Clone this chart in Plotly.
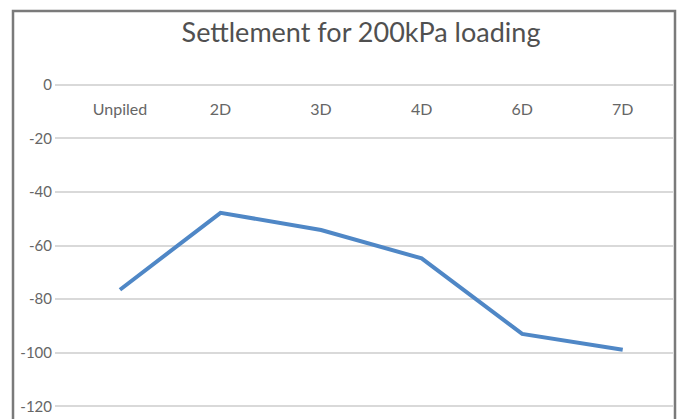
import plotly.graph_objects as go

# Pile spacing cases and measured settlement (mm) under 200 kPa
categories = ["Unpiled", "2D", "3D", "4D", "6D", "7D"]
settlement = [-76.5, -47.8, -54.2, -64.8, -93.0, -98.9]
y_ticks = [0, -20, -40, -60, -80, -100, -120]
y_tick_text = ["0", "-20", "-40", "-60", "-80", "-100", "-120"]

W, H = 679, 419
L, R, T, B = 55, 6, 74, 10
y_range = [-121, 4]

fig = go.Figure()
fig.add_trace(go.Scatter(
    x=categories, y=settlement, mode="lines",
    line=dict(color="#4f87c6", width=4),
    hoverinfo="x+y",
))

plot_h = H - T - B
zero_pos = (0 - y_range[0]) / (y_range[1] - y_range[0])

fig.update_layout(
    width=W, height=H,
    margin=dict(l=L, r=R, t=T, b=B, pad=0),
    paper_bgcolor="white", plot_bgcolor="white",
    showlegend=False,
    title=dict(
        text="Settlement for 200kPa loading",
        font=dict(family="Lato", size=27, color="#505050"),
        x=361 / W, xanchor="center", xref="container",
        y=1 - 33 / H, yanchor="middle", yref="container",
    ),
    xaxis=dict(
        type="category",
        range=[-0.646, 5.5],
        anchor="free", position=zero_pos, side="bottom",
        showgrid=False, showline=False, zeroline=False,
        ticks="", ticklabelstandoff=13,
        tickfont=dict(family="Lato", size=16, color="#666666"),
        automargin=False,
    ),
    yaxis=dict(
        range=y_range,
        tickvals=y_ticks, ticktext=y_tick_text,
        showgrid=True, gridcolor="#d9d9d9", gridwidth=1.5,
        zeroline=False, showline=False,
        ticks="", ticklabelstandoff=2,
        tickfont=dict(family="Lato", size=15, color="#666666"),
        automargin=False,
    ),
    shapes=[dict(
        type="rect", xref="paper", yref="paper",
        x0=(13 - L) / (W - L - R), x1=(675 - L) / (W - L - R),
        y0=-0.1, y1=(H - B - 11) / plot_h,
        line=dict(color="#7a7a7a", width=2.5),
        fillcolor="rgba(0,0,0,0)", layer="above",
    )],
)

fig.write_html("out.html")
